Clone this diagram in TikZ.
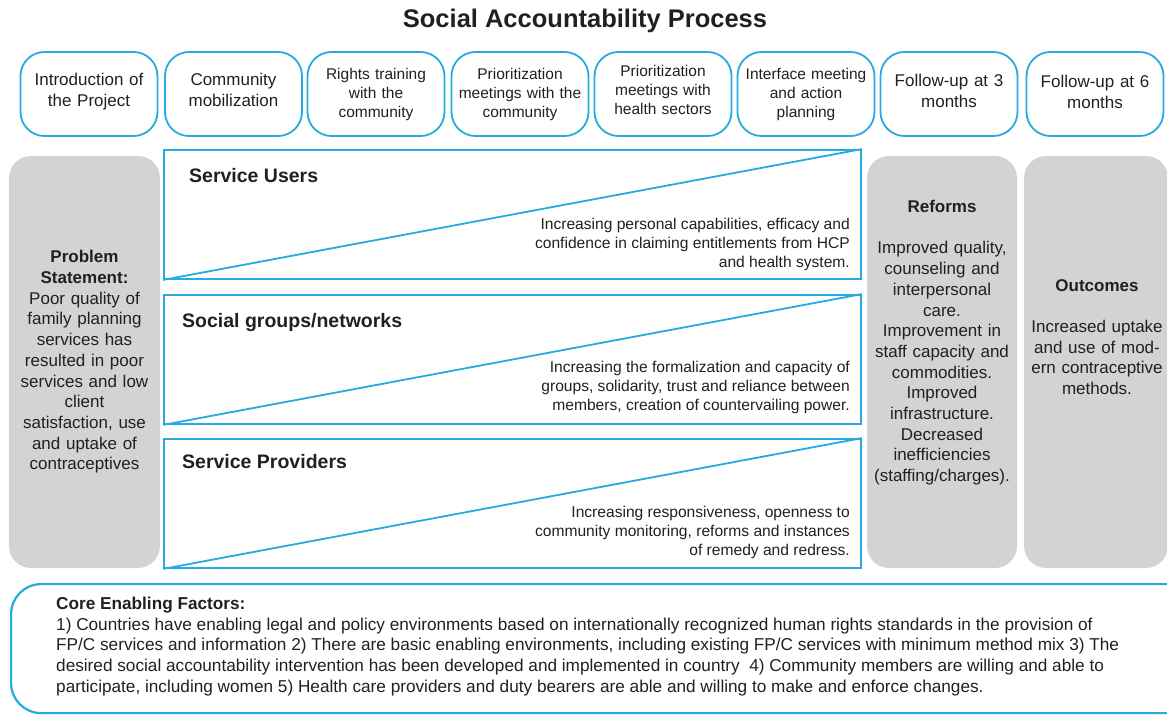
\documentclass[tikz,border=0pt]{standalone}
\usepackage{fontspec}
\setmainfont{Liberation Sans}
\definecolor{sablue}{HTML}{27A9E1}
\definecolor{sagray}{HTML}{D1D3D4}
\definecolor{satext}{HTML}{231F20}
\newcommand\lowpad[1]{\rule[-#1pt]{0pt}{#1pt}}
\tikzset{
  every node/.style={text=satext, inner sep=0pt},
  stagebox/.style={draw=sablue, line width=1.8pt, rounded corners=24pt,
    minimum width=137pt, minimum height=84pt, text width=128pt, align=center,
    font=\fontsize{17}{21}\selectfont},
  smallstage/.style={stagebox, font=\fontsize{15.5}{19}\selectfont},
  panel/.style={draw=sablue, line width=1.8pt, minimum width=697pt, minimum height=129pt},
  diag/.style={draw=sablue, line width=1.8pt},
  grouplabel/.style={anchor=west, font=\bfseries\fontsize{19.5}{23}\selectfont},
  desc/.style={anchor=east, align=right, font=\fontsize{15.6}{19}\selectfont},
  graybox/.style={fill=sagray, draw=none, rounded corners=22pt, minimum height=412pt},
  graytext/.style={align=center, font=\fontsize{17}{20.7}\selectfont},
}
\begin{document}
\begin{tikzpicture}[x=1pt,y=-1pt]
\useasboundingbox (0,0) rectangle (1167,717);
\clip (0,0) rectangle (1167,717);
\node (title) at (585,21) {\bfseries\fontsize{25.5}{30}\selectfont Social Accountability Process};
% top stages
\node[stagebox] (t1) at (89,94) {Introduction of\\the Project\lowpad{7.6}};
\node[stagebox] (t2) at (233.5,94) {Community\\mobilization\lowpad{7.6}};
\node[smallstage] (t3) at (376,94) {Rights training\\with the\\community};
\node[smallstage] (t4) at (520,94) {Prioritization\\meetings with the\\community};
\node[smallstage] (t5) at (663,94) {Prioritization\\meetings with\\health sectors\lowpad{7.3}};
\node[smallstage] (t6) at (806,94) {Interface meeting\\and action\\planning};
\node[stagebox] (t7) at (949,94) {Follow-up at 3\\months\lowpad{5.6}};
\node[stagebox] (t8) at (1095,94) {Follow-up at 6\\months\lowpad{3.8}};
% left gray
\node[graybox, minimum width=151pt] (ps) at (84.5,362) {};
\node[graytext, text width=148pt] (pst) at (ps.center) {\textbf{Problem}\\\textbf{Statement:}\\Poor quality of\\family planning\\services has\\resulted in poor\\services and low\\client\\satisfaction, use\\and uptake of\\contraceptives};
% panels
\node[panel] (p1) at (512.5,214.5) {};
\node[panel] (p2) at (512.5,359.5) {};
\node[panel] (p3) at (512.5,503.5) {};
\draw[diag] (p1.south west) -- (p1.north east);
\draw[diag] (p2.south west) -- (p2.north east);
\draw[diag] (p3.south west) -- (p3.north east);
\node[grouplabel] (l1) at (189,176) {Service Users};
\node[grouplabel] (l2) at (182,322) {Social groups/networks};
\node[grouplabel] (l3) at (182,462) {Service Providers};
\node[desc] (d1) at (850,244) {Increasing personal capabilities, efficacy and\\confidence in claiming entitlements from HCP\\and health system.};
\node[desc] (d2) at (850,387) {Increasing the formalization and capacity of\\groups, solidarity, trust and reliance between\\members, creation of countervailing power.};
\node[desc] (d3) at (850,532) {Increasing responsiveness, openness to\\community monitoring, reforms and instances\\of remedy and redress.};
% reforms
\node[graybox, minimum width=150pt] (rf) at (942,362) {};
\node[graytext, anchor=north, text width=148pt] (rft) at (942,200) {\textbf{Reforms}\\[20.7pt]Improved quality,\\counseling and\\interpersonal\\care.\\Improvement in\\staff capacity and\\commodities.\\Improved\\infrastructure.\\Decreased\\inefficiencies\\(staffing/charges).};
% outcomes
\node[graybox, minimum width=144pt] (oc) at (1096,362) {};
\node[graytext, anchor=north, text width=142pt] (oct) at (1097,279) {\textbf{Outcomes}\\[20.7pt]Increased uptake\\and use of mod-\\ern contraceptive\\methods.};
% core enabling factors
\node[draw=sablue, line width=2.2pt, rounded corners=30pt, minimum width=1200pt, minimum height=129pt, anchor=north west] (cef) at (10,583) {};
\node[anchor=north west, align=left, font=\fontsize{17.2}{20.6}\selectfont] (ceft) at (56,597) {\textbf{Core Enabling Factors:}\\
1) Countries have enabling legal and policy environments based on internationally recognized human rights standards in the provision of\\
FP/C services and information 2) There are basic enabling environments, including existing FP/C services with minimum method mix 3) The\\
desired social accountability intervention has been developed and implemented in country\ \ 4) Community members are willing and able to\\
participate, including women 5) Health care providers and duty bearers are able and willing to make and enforce changes.};
\end{tikzpicture}
\end{document}
